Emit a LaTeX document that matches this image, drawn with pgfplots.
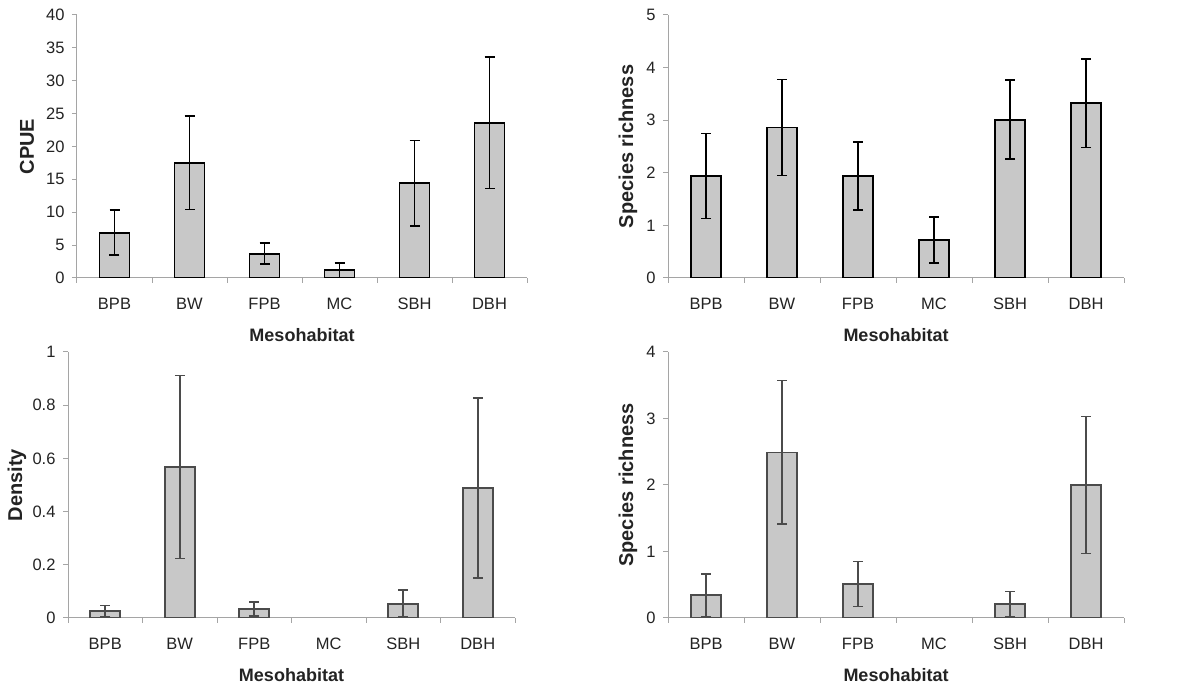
\documentclass[border=0pt]{standalone}
\usepackage{fontspec}
\setmainfont{Liberation Sans}
\usepackage{pgfplots}
\pgfplotsset{compat=1.18}
\definecolor{axgray}{RGB}{165,165,165}
\definecolor{barfill}{RGB}{200,200,200}
\definecolor{txt}{RGB}{35,35,35}
\definecolor{dgray}{RGB}{75,75,75}
\pgfplotsset{
 meso/.style={
  scale only axis,
  anchor=south west,
  axis x line*=bottom, axis y line*=left,
  axis line style={draw=axgray, line width=1pt, -},
  xmin=-0.5, xmax=5.5, ymin=0,
  xtick={0,1,2,3,4,5},
  xticklabels={BPB,BW,FPB,MC,SBH,DBH},
  minor xtick={-0.5,0.5,1.5,2.5,3.5,4.5,5.5},
  tick align=outside,
  major tick length=5pt,
  minor tick length=5pt,
  major tick style={draw=axgray, line width=1pt},
  minor tick style={draw=axgray, line width=1pt},
  major x tick style={draw=none},
  tick label style={font=\fontsize{16.5}{18}\selectfont, text=txt},
  /pgf/number format/assume math mode=true,
  xticklabel style={yshift=-11pt, text height=12pt, text depth=0pt, anchor=north},
  yticklabel style={xshift=-4pt},
  xlabel={Mesohabitat},
  xlabel style={font=\bfseries\fontsize{18}{20}\selectfont, text=txt,
    at={([yshift=-57pt]axis description cs:0.5,0)}, anchor=center},
  ylabel style={font=\bfseries\fontsize{20}{22}\selectfont, text=txt},
 },
 bars/.style={ybar, bar width=0.4, fill=barfill, draw=#1, line width=1.8pt,
  error bars/.cd, y dir=both, y explicit,
  error bar style={line width=1.6pt, draw=#1},
  error mark options={rotate=90, mark size=5pt, line width=1.6pt, draw=#1}},
}
\begin{document}
\begin{tikzpicture}
\path[use as bounding box] (0,0) rectangle (1202pt,690pt);
% top-left
\begin{axis}[meso, at={(77pt,412pt)}, width=450pt, height=263pt,
  ymax=40, ytick={0,5,10,15,20,25,30,35,40}, ylabel={CPUE},
  ylabel style={at={([xshift=-50pt]axis description cs:0,0.5)}, anchor=center}]
\addplot[bars=black] coordinates {
 (0,6.9) +- (0,3.4)
 (1,17.5) +- (0,7.1)
 (2,3.7) +- (0,1.6)
 (3,1.2) +- (0,1.1)
 (4,14.4) +- (0,6.5)
 (5,23.6) +- (0,10.0)
};
\end{axis}
% top-right
\begin{axis}[meso, at={(668pt,412pt)}, width=456pt, height=263pt,
  ymax=5, ytick={0,1,2,3,4,5}, ylabel={Species richness},
  ylabel style={at={([xshift=-40pt]axis description cs:0,0.5)}, anchor=center}]
\addplot[bars=black] coordinates {
 (0,1.94) +- (0,0.81)
 (1,2.86) +- (0,0.91)
 (2,1.94) +- (0,0.65)
 (3,0.72) +- (0,0.44)
 (4,3.01) +- (0,0.75)
 (5,3.32) +- (0,0.84)
};
\end{axis}
% bottom-left
\begin{axis}[meso, at={(68pt,72pt)}, width=447pt, height=266pt,
  ymax=1, ytick={0,0.2,0.4,0.6,0.8,1}, ylabel={Density},
  ylabel style={at={([xshift=-51pt]axis description cs:0,0.5)}, anchor=center}]
\addplot[bars=dgray] coordinates {
 (0,0.026) +- (0,0.021)
 (1,0.567) +- (0,0.344)
 (2,0.034) +- (0,0.026)
 (4,0.054) +- (0,0.051)
 (5,0.488) +- (0,0.338)
};
\end{axis}
% bottom-right
\begin{axis}[meso, at={(668pt,72pt)}, width=456pt, height=266pt,
  ymax=4, ytick={0,1,2,3,4}, ylabel={Species richness},
  ylabel style={at={([xshift=-40pt]axis description cs:0,0.5)}, anchor=center}]
\addplot[bars=dgray] coordinates {
 (0,0.34) +- (0,0.32)
 (1,2.49) +- (0,1.08)
 (2,0.51) +- (0,0.34)
 (4,0.21) +- (0,0.19)
 (5,2.0) +- (0,1.03)
};
\end{axis}
\end{tikzpicture}
\end{document}
